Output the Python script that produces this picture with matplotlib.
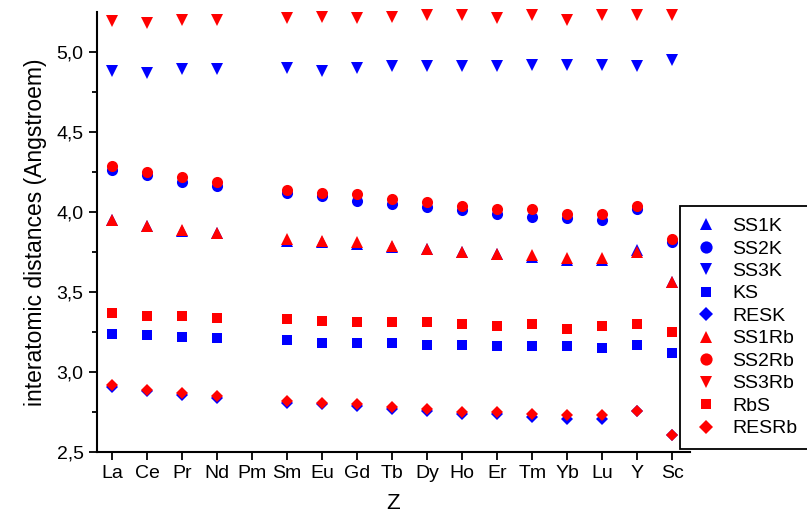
import numpy as np
import matplotlib
matplotlib.use("Agg")
import matplotlib.pyplot as plt

plt.rcParams['font.family'] = ['Liberation Sans', 'DejaVu Sans']

elements = ['La', 'Ce', 'Pr', 'Nd', 'Pm', 'Sm', 'Eu', 'Gd', 'Tb', 'Dy',
            'Ho', 'Er', 'Tm', 'Yb', 'Lu', 'Y', 'Sc']
nan = np.nan

# K compounds
ss1k = [3.95, 3.91, 3.88, 3.87, nan, 3.82, 3.81, 3.80, 3.78, 3.77, 3.75, 3.74, 3.72, 3.70, 3.70, 3.76, 3.56]
ss2k = [4.26, 4.23, 4.19, 4.16, nan, 4.12, 4.10, 4.07, 4.05, 4.03, 4.01, 3.99, 3.97, 3.96, 3.95, 4.02, 3.81]
ss3k = [4.88, 4.87, 4.89, 4.89, nan, 4.90, 4.88, 4.90, 4.91, 4.91, 4.91, 4.91, 4.92, 4.92, 4.92, 4.91, 4.95]
ks = [3.24, 3.23, 3.22, 3.21, nan, 3.20, 3.18, 3.18, 3.18, 3.17, 3.17, 3.16, 3.16, 3.16, 3.15, 3.17, 3.12]
resk = [2.91, 2.88, 2.86, 2.84, nan, 2.81, 2.80, 2.79, 2.77, 2.76, 2.74, 2.74, 2.72, 2.71, 2.71, 2.76, 2.61]

# Rb compounds
ss1rb = [3.95, 3.91, 3.89, 3.87, nan, 3.83, 3.82, 3.81, 3.79, 3.77, 3.75, 3.74, 3.73, 3.71, 3.71, 3.75, 3.56]
ss2rb = [4.29, 4.25, 4.22, 4.19, nan, 4.14, 4.12, 4.11, 4.08, 4.06, 4.04, 4.02, 4.02, 3.99, 3.99, 4.04, 3.83]
ss3rb = [5.19, 5.18, 5.20, 5.20, nan, 5.21, 5.22, 5.21, 5.22, 5.23, 5.23, 5.21, 5.23, 5.20, 5.23, 5.23, 5.23]
rbs = [3.37, 3.35, 3.35, 3.34, nan, 3.33, 3.32, 3.31, 3.31, 3.31, 3.30, 3.29, 3.30, 3.27, 3.29, 3.30, 3.25]
resrb = [2.92, 2.89, 2.87, 2.85, nan, 2.82, 2.81, 2.80, 2.78, 2.77, 2.75, 2.75, 2.74, 2.73, 2.73, 2.76, 2.61]

x = np.arange(len(elements))

fig = plt.figure(figsize=(8.07, 5.15), dpi=100)
ax = fig.add_axes([0.12, 0.122, 0.735, 0.855])

blue = '#0000ff'
red = '#ff0000'
ms = 8
series = [
    (ss1k, '^', blue, 'SS1K'),
    (ss2k, 'o', blue, 'SS2K'),
    (ss3k, 'v', blue, 'SS3K'),
    (ks, 's', blue, 'KS'),
    (resk, 'D', blue, 'RESK'),
    (ss1rb, '^', red, 'SS1Rb'),
    (ss2rb, 'o', red, 'SS2Rb'),
    (ss3rb, 'v', red, 'SS3Rb'),
    (rbs, 's', red, 'RbS'),
    (resrb, 'D', red, 'RESRb'),
]
for vals, mk, col, lab in series:
    size = ms - 1.5 if mk in ('s', 'D') else ms
    ax.plot(x, vals, linestyle='none', marker=mk, color=col,
            markersize=size, markeredgewidth=0, label=lab, clip_on=False)

ax.set_xlim(-0.43, 16.5)
ax.set_ylim(2.5, 5.25)
ax.set_xticks(x)
ax.set_xticklabels(elements, fontsize=14)
ax.set_yticks([2.5, 3.0, 3.5, 4.0, 4.5, 5.0])
ax.set_yticklabels(['2,5', '3,0', '3,5', '4,0', '4,5', '5,0'], fontsize=14)
ax.set_yticks(np.arange(2.75, 5.25, 0.5), minor=True)
ax.tick_params(axis='both', which='major', direction='out', length=6, width=1.3)
ax.tick_params(axis='y', which='minor', direction='out', length=3.5, width=1.3)
for s in ('top', 'right'):
    ax.spines[s].set_visible(False)
for s in ('left', 'bottom'):
    ax.spines[s].set_linewidth(1.5)

ax.set_xlabel('Z', fontsize=16, labelpad=8)
ax.set_ylabel('interatomic distances (Angstroem)', fontsize=16.5, labelpad=7)

# legend box hangs off the right edge, bottom resting on the x axis
leg = fig.legend(loc='lower left', bbox_to_anchor=(680 / 807, 1 - 449 / 515, 0.17, 0.5),
                 mode='expand', borderaxespad=0, fontsize=14, frameon=True,
                 fancybox=False, handlelength=1.5, handletextpad=0.57,
                 labelspacing=0.25, borderpad=0.6, markerscale=1.1)
leg.get_frame().set_edgecolor('black')
leg.get_frame().set_linewidth(1.3)
leg.get_frame().set_alpha(1)

fig.savefig('out.png', dpi=100)
